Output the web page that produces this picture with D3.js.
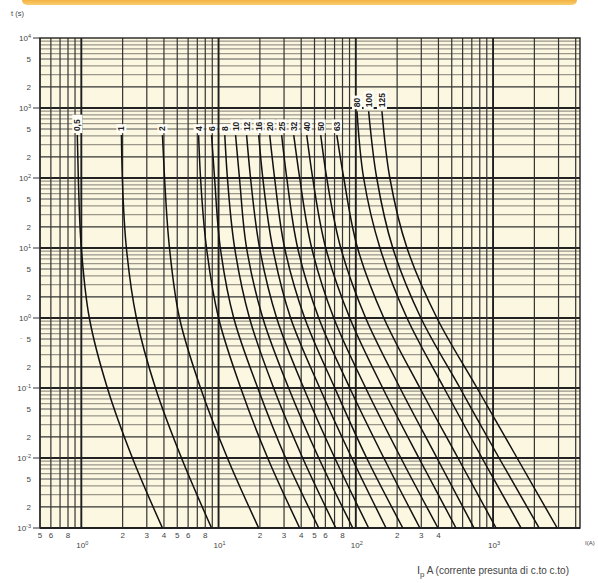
<!DOCTYPE html>
<html>
<head>
<meta charset="utf-8">
<script src="https://cdn.jsdelivr.net/npm/d3@7/dist/d3.min.js"></script>
<style>
  body { margin: 0; background: #fff; }
  svg { display: block; }
</style>
</head>
<body>
<svg></svg>
<script>
// fuse ratings (A) and their curves: [current A] read at the times below
var ratings = ["0,5", "1", "2", "4", "6", "8", "10", "12", "16", "20", "25", "32", "40", "50", "63", "80", "100", "125"];
var startTimes = [410, 410, 410, 410, 410, 410, 410, 410, 410, 410, 410, 410, 410, 410, 410, 900, 900, 900];
var times = [100, 10, 1, 0.1, 0.01, 0.001];
var currents = [
  [0.935, 0.951, 1.0, 1.144, 1.548, 2.357, 3.90],
  [1.96, 1.99, 2.13, 2.52, 3.47, 5.37, 8.89],
  [3.90, 4.04, 4.39, 5.19, 7.39, 11.6, 19.6],
  [7.15, 7.39, 8.17, 10.0, 14.5, 22.8, 39.0],
  [8.89, 9.35, 10.3, 12.9, 19.3, 30.8, 53.7],
  [11.1, 11.6, 13.1, 16.8, 25.2, 41.0, 71.5],
  [13.3, 14.2, 16.0, 21.0, 32.4, 53.7, 95.1],
  [16.0, 17.1, 19.9, 26.5, 41.7, 70.3, 124],
  [19.6, 21.0, 24.8, 33.5, 54.6, 93.5, 166],
  [23.6, 25.6, 30.3, 42.4, 70.3, 120, 220],
  [28.8, 31.4, 37.7, 53.7, 90.4, 160, 293],
  [35.3, 39.0, 47.7, 69.1, 118, 213, 397],
  [43.9, 48.5, 60.4, 90.4, 157, 288, 537],
  [55.5, 61.4, 77.7, 118, 210, 390, 727],
  [72.7, 81.7, 103, 160, 293, 555, 1052],
  [102, 114, 150, 236, 439, 831, 1601],
  [124, 142, 186, 298, 574, 1106, 2167],
  [155, 177, 236, 390, 764, 1497, 2932]
];
var yDecades = [4, 3, 2, 1, 0, -1, -2, -3];
var xDecades = [0, 1, 2, 3];
var xMinorLabels = [5, 6, 8, 20, 30, 40, 50, 60, 80, 200, 300, 400, 500, 600, 800, 2000, 3000, 4000, 5000, 6000, 8000, 20000, 30000, 40000];

window.onload = function(){
  var W = 598, H = 583;
  var svg = d3.select("svg").attr("width", W).attr("height", H);

  var x = d3.scaleLog().domain([0.5, 4300]).range([40, 580]);
  var y = d3.scaleLog().domain([1e-3, 1e4]).range([528, 38]);

  // orange header strip
  var defs = svg.append("defs");
  var grad = defs.append("linearGradient").attr("id", "hdr")
    .attr("x1", 0).attr("y1", 0).attr("x2", 0).attr("y2", 1);
  grad.append("stop").attr("offset", "0%").attr("stop-color", "#ee8f12");
  grad.append("stop").attr("offset", "100%").attr("stop-color", "#f8cf6e");
  svg.append("rect").attr("x", 22).attr("y", -6).attr("width", 555).attr("height", 11)
    .attr("rx", 5).attr("fill", "url(#hdr)");

  // plot background
  svg.append("rect").attr("x", 40).attr("y", 38).attr("width", 540).attr("height", 490)
    .attr("fill", "#fcf7e0");

  var grid = svg.append("g");
  // horizontal grid
  for (var e = -3; e < 4; e++) {
    for (var m = 1; m < 10; m++) {
      var v = m * Math.pow(10, e);
      var col = "#9a968a", sw = 1.2;
      if (m === 1) { col = "#222"; sw = 1.8; }
      else if (m === 2) { col = "#333"; sw = 1.2; }
      else if (m === 5) { col = "#555"; sw = 1.1; }
      grid.append("line").attr("x1", 40).attr("x2", 580)
        .attr("y1", y(v)).attr("y2", y(v))
        .attr("stroke", col).attr("stroke-width", sw);
    }
  }
  // vertical grid
  for (var e2 = -1; e2 < 4; e2++) {
    for (var m2 = 1; m2 < 10; m2++) {
      var vx = m2 * Math.pow(10, e2);
      if (vx < 0.5 || vx > 4300) continue;
      grid.append("line").attr("y1", 38).attr("y2", 528)
        .attr("x1", x(vx)).attr("x2", x(vx))
        .attr("stroke", m2 === 1 ? "#1e1e1e" : "#333")
        .attr("stroke-width", m2 === 1 ? 1.9 : 1.2);
    }
  }
  // frame
  svg.append("rect").attr("x", 40).attr("y", 38).attr("width", 540).attr("height", 490)
    .attr("fill", "none").attr("stroke", "#222").attr("stroke-width", 1.4);

  // y axis labels
  var yl = svg.append("g").attr("font-family", "Liberation Sans, Arial, sans-serif")
    .attr("fill", "#444");
  yDecades.forEach(function(e){
    var yy = y(Math.pow(10, e));
    yl.append("line").attr("x1", 33).attr("x2", 40).attr("y1", yy).attr("y2", yy)
      .attr("stroke", "#333").attr("stroke-width", 1);
    var t = yl.append("text").attr("x", 31).attr("y", yy + 3).attr("text-anchor", "end")
      .attr("font-size", 8);
    t.append("tspan").text("10");
    t.append("tspan").attr("dy", -3.5).attr("font-size", 5.5).text(e);
    if (e > -3) {
      [5, 2].forEach(function(m){
        yl.append("text").attr("x", 31).attr("y", y(m * Math.pow(10, e - 1)) + 3)
          .attr("text-anchor", "end").attr("font-size", 8).text(m);
      });
    }
  });
  yl.append("text").attr("x", 11).attr("y", 16).attr("font-size", 7.5).text("t (s)");
  yl.append("text").attr("x", 20).attr("y", 340).attr("font-size", 7).attr("fill", "#999").text("-");

  // x axis labels
  var xl = svg.append("g").attr("font-family", "Liberation Sans, Arial, sans-serif")
    .attr("fill", "#444");
  xMinorLabels.forEach(function(v){
    if (v > 4300) return;
    var s = String(v).charAt(0);
    xl.append("text").attr("x", x(v / 10)).attr("y", 538).attr("text-anchor", "middle")
      .attr("font-size", 8).text(s);
  });
  xDecades.forEach(function(e){
    var t = xl.append("text").attr("x", x(Math.pow(10, e)) + 1).attr("y", 548)
      .attr("text-anchor", "middle").attr("font-size", 8);
    t.append("tspan").text("10");
    t.append("tspan").attr("dy", -3.5).attr("font-size", 5.5).text(e);
  });
  xl.append("text").attr("x", 585).attr("y", 545).attr("font-size", 6).text("I(A)");
  var title = xl.append("text").attr("x", 493).attr("y", 574).attr("text-anchor", "middle")
    .attr("font-size", 10);
  title.append("tspan").attr("font-size", 11).text("I");
  title.append("tspan").attr("dy", 3).attr("font-size", 8).text("p");
  title.append("tspan").attr("dy", -3).text(" A (corrente presunta di c.to c.to)");

  // curves
  var line = d3.line()
    .x(function(d){ return x(d[0]); })
    .y(function(d){ return y(d[1]); })
    .curve(d3.curveMonotoneY);

  var curves = svg.append("g");
  currents.forEach(function(cs, i){
    var pts = [[cs[0], startTimes[i]]];
    times.forEach(function(t, j){ pts.push([cs[j + 1], t]); });
    curves.append("path").attr("d", line(pts))
      .attr("fill", "none").attr("stroke", "#111").attr("stroke-width", 1.5);
  });

  // rating labels, rotated above each curve
  var lab = svg.append("g").attr("font-family", "Liberation Sans, Arial, sans-serif");
  currents.forEach(function(cs, i){
    var lx = x(cs[0]), ly = y(startTimes[i]) - 3;
    var len = ratings[i].length * 4.8 + 3;
    lab.append("rect").attr("x", lx - 5).attr("y", ly - len).attr("width", 10)
      .attr("height", len + 1).attr("fill", "#fffef8");
    lab.append("text").attr("transform", "translate(" + (lx + 3) + "," + (ly - 1) + ") rotate(-90)")
      .attr("font-size", 8.5).attr("font-weight", "bold").attr("fill", "#222").text(ratings[i]);
  });
};
</script>
</body>
</html>
